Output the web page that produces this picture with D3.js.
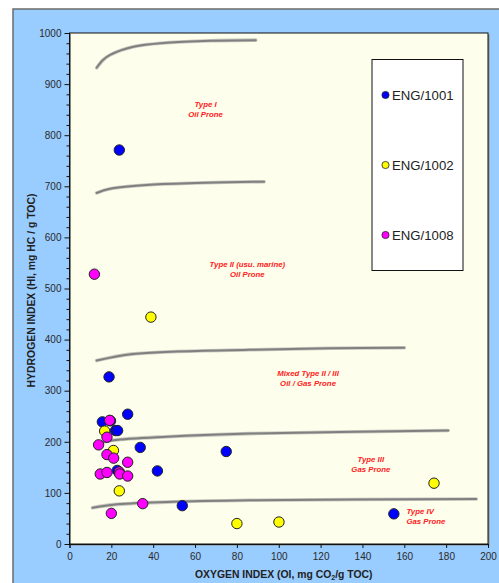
<!DOCTYPE html>
<html>
<head>
<meta charset="utf-8">
<script src="https://cdn.jsdelivr.net/npm/d3@7"></script>
<style>
  body { margin: 0; background: #fff; }
  svg { display: block; font-family: "Liberation Sans", Arial, sans-serif; }
</style>
</head>
<body>
<script>
// data: [oxygen index, hydrogen index]
var eng1001 = [[23.8, 771], [18.9, 327], [15.7, 239], [19.6, 241], [27.8, 254],
               [22, 222], [23, 222], [33.8, 189], [74.9, 181], [42, 143],
               [22.8, 144], [53.9, 75], [155, 59]];
var eng1002 = [[38.9, 444], [16.8, 221], [21, 183], [23.8, 104], [80, 40],
               [100.1, 43], [174.2, 119]];
var eng1008 = [[11.9, 528], [19.2, 242], [17.9, 209], [13.9, 194], [17.9, 175],
               [21.1, 168], [27.8, 160], [14.7, 137], [17.9, 140], [23.8, 141],
               [24, 137], [27.8, 133], [35, 79], [20, 60]];

var seriesNames = ["ENG/1001", "ENG/1002", "ENG/1008"];
var seriesColors = ["#0000ff", "#ffff00", "#ff00ff"];

// kerogen type boundary curves
var curveTypeI = [[13, 932], [16, 947], [19.4, 957], [30.5, 973], [46.4, 981], [70, 985], [89, 986]];
var curveTypeII = [[13, 687], [19.4, 695], [38.5, 703], [65, 707], [93, 709]];
var curveTypeIIb = [[13, 359], [30.5, 372], [86, 380], [125, 383], [160, 384]];
var curveTypeIII = [[12.2, 196], [20.9, 203], [46.4, 210], [86, 216], [181, 222]];
var curveTypeIV = [[11, 71], [21, 77], [46.4, 82], [86, 85.5], [194.4, 88]];

// zone labels: [x, y, line1, line2, anchor]
var zoneLabels = [
  [65, 855, "Type I", "Oil Prone", "middle"],
  [85, 542, "Type II  (usu.  marine)", "Oil Prone", "middle"],
  [114, 328, "Mixed Type  II / III", "Oil / Gas  Prone", "middle"],
  [144, 161, "Type III", "Gas Prone", "middle"],
  [161, 59, "Type IV", "Gas Prone", "start"]
];

var xTicks = [0, 20, 40, 60, 80, 100, 120, 140, 160, 180, 200];
var yTicks = [0, 100, 200, 300, 400, 500, 600, 700, 800, 900, 1000];

var W = 499, H = 583;
var margin = {top: 33, left: 69.5, right: 11, bottom: 39};
var width = W - margin.left - margin.right,
    height = H - margin.top - margin.bottom;

var svg = d3.select("body").append("svg")
    .attr("width", W)
    .attr("height", H);

// outer blue panel
svg.append("rect")
    .attr("x", 13).attr("y", 9)
    .attr("width", 520).attr("height", 620)
    .attr("fill", "#99ccff")
    .attr("stroke", "#6b6b6b")
    .attr("stroke-width", 1.5);

var g = svg.append("g")
    .attr("transform", "translate(" + margin.left + "," + margin.top + ")");

var x = d3.scaleLinear().domain([0, 200]).range([0, width]);
var y = d3.scaleLinear().domain([0, 1000]).range([height, 0]);

// plot area
g.append("rect")
    .attr("x", 1.5).attr("y", 1.5)
    .attr("width", width).attr("height", height)
    .attr("fill", "#8a8a8a");
g.append("rect")
    .attr("width", width).attr("height", height)
    .attr("fill", "#fefeec")
    .attr("stroke", "#111")
    .attr("stroke-width", 1);

// axes
var xAxis = g.append("g")
    .attr("transform", "translate(0," + height + ")")
    .call(d3.axisBottom(x).tickValues(xTicks).tickSize(4).tickPadding(5));
var yAxis = g.append("g")
    .call(d3.axisLeft(y).tickValues(d3.range(0, 1001, 20)).tickSize(4).tickPadding(5)
      .tickFormat(function(d) { return yTicks.indexOf(d) >= 0 ? d : ""; }));
yAxis.selectAll(".tick line").attr("x2", function(d) { return d % 100 === 0 ? -5 : -3; });
[xAxis, yAxis].forEach(function(a) {
  a.select(".domain").attr("stroke", "#111");
  a.selectAll(".tick line").attr("stroke", "#111");
  a.selectAll("text")
      .attr("font-family", "'Liberation Sans', Arial, sans-serif")
      .attr("font-size", 10)
      .attr("fill", "#2a2a2a");
});
yAxis.selectAll("text").attr("x", -8);

// boundary curves
var line = d3.line()
    .x(function(d) { return x(d[0]); })
    .y(function(d) { return y(d[1]); })
    .curve(d3.curveCatmullRom.alpha(0.5));
[curveTypeI, curveTypeII, curveTypeIIb, curveTypeIII, curveTypeIV].forEach(function(c) {
  g.append("path")
      .datum(c)
      .attr("d", line)
      .attr("fill", "none")
      .attr("stroke", "#c8c8c0")
      .attr("stroke-width", 3.6)
      .attr("stroke-linecap", "round");
  g.append("path")
      .datum(c)
      .attr("d", line)
      .attr("fill", "none")
      .attr("stroke", "#808080")
      .attr("stroke-width", 2)
      .attr("stroke-linecap", "round");
});

// zone labels
zoneLabels.forEach(function(l) {
  var t = g.append("text")
      .attr("x", x(l[0]))
      .attr("y", y(l[1]))
      .attr("text-anchor", l[4])
      .attr("font-size", 7.8)
      .attr("font-weight", "bold")
      .attr("font-style", "italic")
      .attr("fill", "#ff2020");
  t.append("tspan").attr("x", x(l[0])).text(l[2]);
  t.append("tspan").attr("x", x(l[0])).attr("dy", 10).text(l[3]);
});

// points
[eng1001, eng1002, eng1008].forEach(function(s, i) {
  g.selectAll(null)
      .data(s)
    .enter().append("circle")
      .attr("cx", function(d) { return x(d[0]); })
      .attr("cy", function(d) { return y(d[1]); })
      .attr("r", 5.2)
      .attr("fill", seriesColors[i])
      .attr("stroke", "#222")
      .attr("stroke-width", 1);
});

// legend
var legend = svg.append("g");
legend.append("rect")
    .attr("x", 372).attr("y", 59.5)
    .attr("width", 91).attr("height", 211)
    .attr("fill", "#fff")
    .attr("stroke", "#111")
    .attr("stroke-width", 1);
seriesNames.forEach(function(name, i) {
  var ly = 95 + i * 70;
  legend.append("circle")
      .attr("cx", 385.5).attr("cy", ly)
      .attr("r", 3.6)
      .attr("fill", seriesColors[i])
      .attr("stroke", "#222")
      .attr("stroke-width", 0.8);
  legend.append("text")
      .attr("x", 392).attr("y", ly + 4.5)
      .attr("font-size", 13.2)
      .attr("fill", "#222")
      .text(name);
});

// axis titles
svg.append("text")
    .attr("transform", "translate(35," + (margin.top + height / 2 + 2) + ") rotate(-90)")
    .attr("text-anchor", "middle")
    .attr("font-size", 10.4)
    .attr("font-weight", "bold")
    .attr("fill", "#222")
    .text("HYDROGEN INDEX (HI, mg HC / g TOC)");

var xt = svg.append("text")
    .attr("x", margin.left + width / 2 + 5)
    .attr("y", 578)
    .attr("text-anchor", "middle")
    .attr("font-size", 10.4)
    .attr("font-weight", "bold")
    .attr("fill", "#222");
xt.append("tspan").text("OXYGEN INDEX (OI, mg CO");
xt.append("tspan").attr("font-size", 7).attr("dy", 2).text("2");
xt.append("tspan").attr("dy", -2).text("/g TOC)");
</script>
</body>
</html>
